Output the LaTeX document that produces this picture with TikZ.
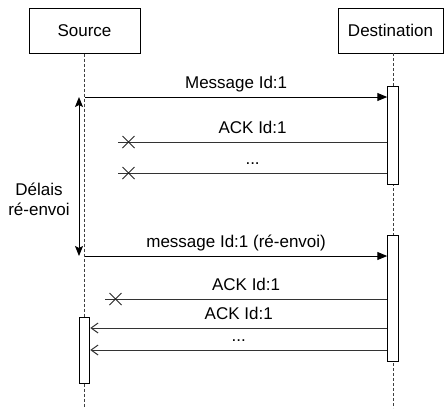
\documentclass[tikz,border=0pt]{standalone}
\usepackage{fontspec}
\setmainfont{Liberation Sans}
\usetikzlibrary{arrows.meta,shapes.misc}

\begin{document}
\begin{tikzpicture}[x=1pt, y=-1pt,
  lifebox/.style={draw, line width=1pt, minimum width=105pt, minimum height=45pt, inner sep=0pt, font=\fontsize{17}{20}\selectfont},
  lifeline/.style={black!75, line width=1pt, dash pattern=on 3pt off 2pt},
  activation/.style={draw, fill=white, line width=1pt, minimum width=10.5pt, inner sep=0pt},
  msg/.style={line width=1pt, -{Triangle[length=10pt,width=8pt]}},
  reply/.style={line width=1pt, black!80, -{Straight Barb[length=7pt,width=10pt]}},
  lost/.style={line width=1pt, black!80},
  crossmark/.style={cross out, draw, black!85, line width=1pt, minimum size=11pt, inner sep=0pt},
  delay/.style={line width=1pt, {Stealth[length=10pt,width=8pt,inset=2pt]}-{Stealth[length=10pt,width=8pt,inset=2pt]}},
  msglabel/.style={font=\fontsize{17}{20}\selectfont, text=black, anchor=base, yshift=9pt, inner sep=0pt},
]
\useasboundingbox (0,0) rectangle (444,408);

% Participants
\node[lifebox, minimum width=111pt] (src) at (84.5,30.5) {Source};
\node[lifebox] (dst) at (390.5,30.5) {Destination};

% Lifelines
\coordinate (sbot) at (84.5,408);
\coordinate (dtop) at (393,53);
\coordinate (dbot) at (393,408);
\draw[lifeline] (src.south) -- (sbot);
\draw[lifeline] (dtop) -- (dbot);

% Activations
\node[activation, minimum height=98pt] (dact1) at (393,135) {};
\node[activation, minimum height=126pt] (dact2) at (393,298) {};
\node[activation, minimum height=66pt] (sact) at (84.5,350) {};

% First message
\coordinate (m1) at (85,97);
\draw[msg] (m1) -- node[msglabel] {Message Id:1} (m1 -| dact1.west);

% Lost acknowledgements
\coordinate (l1) at (118,142);
\coordinate (l2) at (118,173);
\draw[lost] (l1 -| dact1.west) -- node[msglabel] {ACK Id:1} (l1);
\draw[lost] (l2 -| dact1.west) -- node[msglabel] {...} (l2);
\node[crossmark] (x1) at (128.5,142) {};
\node[crossmark] (x2) at (128.5,173) {};

% Resend delay
\coordinate (d1) at (79,97);
\coordinate (d2) at (79,256);
\draw[delay] (d1) -- (d2);
\node[font=\fontsize{17}{20}\selectfont, align=center, inner sep=0pt] (dlbl) at (39,199) {Délais\\ré-envoi};

% Resent message
\coordinate (m2) at (85,256);
\draw[msg] (m2) -- node[msglabel] {message Id:1 (ré-envoi)} (m2 -| dact2.west);

% Acknowledgements after resend
\coordinate (l3) at (105,299);
\draw[lost] (l3 -| dact2.west) -- node[msglabel] {ACK Id:1} (l3);
\node[crossmark] (x3) at (115.5,299) {};
\coordinate (r1) at (90,328);
\coordinate (r2) at (90,350);
\draw[reply] (r1 -| dact2.west) -- node[msglabel] {ACK Id:1} (r1 -| sact.east);
\draw[reply] (r2 -| dact2.west) -- node[msglabel] {...} (r2 -| sact.east);

\end{tikzpicture}
\end{document}
